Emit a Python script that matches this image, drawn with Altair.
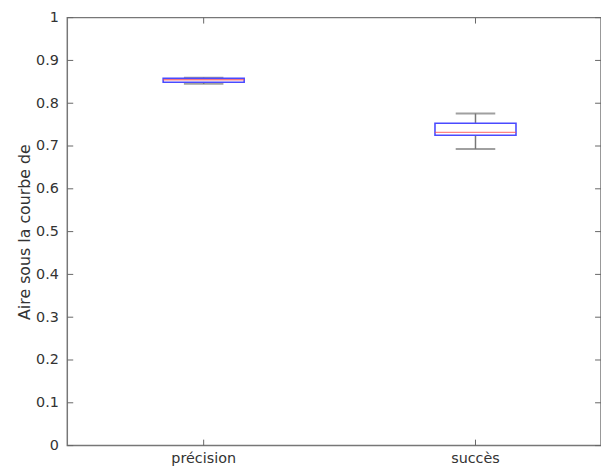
import altair as alt
import pandas as pd

categories = ["précision", "succès"]
q1 = [0.849, 0.725]
median = [0.855, 0.732]
q3 = [0.858, 0.753]
whisker_low = [0.845, 0.693]
whisker_high = [0.860, 0.776]
y_ticks = [0, 0.1, 0.2, 0.3, 0.4, 0.5, 0.6, 0.7, 0.8, 0.9, 1.0]

W, H = 540, 433
TL = 6
FONT = "DejaVu Sans"

df = pd.DataFrame({
    "cat": categories, "q1": q1, "med": median, "q3": q3,
    "lo": whisker_low, "hi": whisker_high,
})
ticks_df = pd.DataFrame({"v": y_ticks})
cats_df = pd.DataFrame({"cat": categories})

xscale = alt.Scale(domain=categories, paddingInner=0.702, paddingOuter=0.3327, align=0.53)
yscale = alt.Scale(domain=[0, 1])

x_enc = alt.X("cat:N", scale=xscale, sort=categories,
              axis=alt.Axis(title=None, labelAngle=0, ticks=False, domain=False,
                            labelFont=FONT, labelFontSize=14.5, labelColor="#333333",
                            labelPadding=6))
y_axis = alt.Axis(title="Aire sous la courbe de", values=y_ticks, format="~g",
                  ticks=False, domain=False, grid=False,
                  labelFont=FONT, labelFontSize=14.5, labelColor="#333333", labelPadding=9,
                  titleFont=FONT, titleFontSize=16, titleColor="#333333",
                  titleFontWeight="normal", titlePadding=3)

base = alt.Chart(df)

wh_hi = base.mark_rule(color="#777777", strokeWidth=1.5).encode(
    x=x_enc, y=alt.Y("q3:Q", scale=yscale, axis=y_axis), y2="hi:Q")
wh_lo = base.mark_rule(color="#777777", strokeWidth=1.5).encode(
    x=x_enc, y=alt.Y("lo:Q", scale=yscale), y2="q1:Q")
cap_hi = base.mark_tick(color="#777777", size=40, thickness=1.8).encode(
    x=x_enc, y=alt.Y("hi:Q", scale=yscale))
cap_lo = base.mark_tick(color="#777777", size=40, thickness=1.8).encode(
    x=x_enc, y=alt.Y("lo:Q", scale=yscale))
box = base.mark_bar(fill="white", stroke="#4a4aff", strokeWidth=1.6).encode(
    x=x_enc, y=alt.Y("q1:Q", scale=yscale), y2="q3:Q")
med = base.mark_tick(color="#ff5050", size=82, thickness=1.4).encode(
    x=x_enc, y=alt.Y("med:Q", scale=yscale))

tk = alt.Chart(ticks_df)
ytick_l = tk.mark_rule(color="#666666").encode(
    y=alt.Y("v:Q", scale=yscale), x=alt.value(0), x2=alt.value(TL))
ytick_r = tk.mark_rule(color="#666666").encode(
    y=alt.Y("v:Q", scale=yscale), x=alt.value(W - TL), x2=alt.value(W))
ck = alt.Chart(cats_df)
xtick_b = ck.mark_rule(color="#666666").encode(
    x=x_enc, y=alt.value(H - TL), y2=alt.value(H))
xtick_t = ck.mark_rule(color="#666666").encode(
    x=x_enc, y=alt.value(0), y2=alt.value(TL))

chart = alt.layer(
    ytick_l, ytick_r, xtick_b, xtick_t,
    wh_hi, wh_lo, cap_hi, cap_lo, box, med,
).properties(
    width=W, height=H,
    autosize=alt.AutoSizeParams(type="none"),
    padding={"left": 60, "top": 7, "right": 0, "bottom": 25},
).configure(
    background="white"
).configure_view(
    stroke="#777777", strokeWidth=1.5
)

chart.save("out.html", embed_options={"renderer": "svg", "actions": False})
